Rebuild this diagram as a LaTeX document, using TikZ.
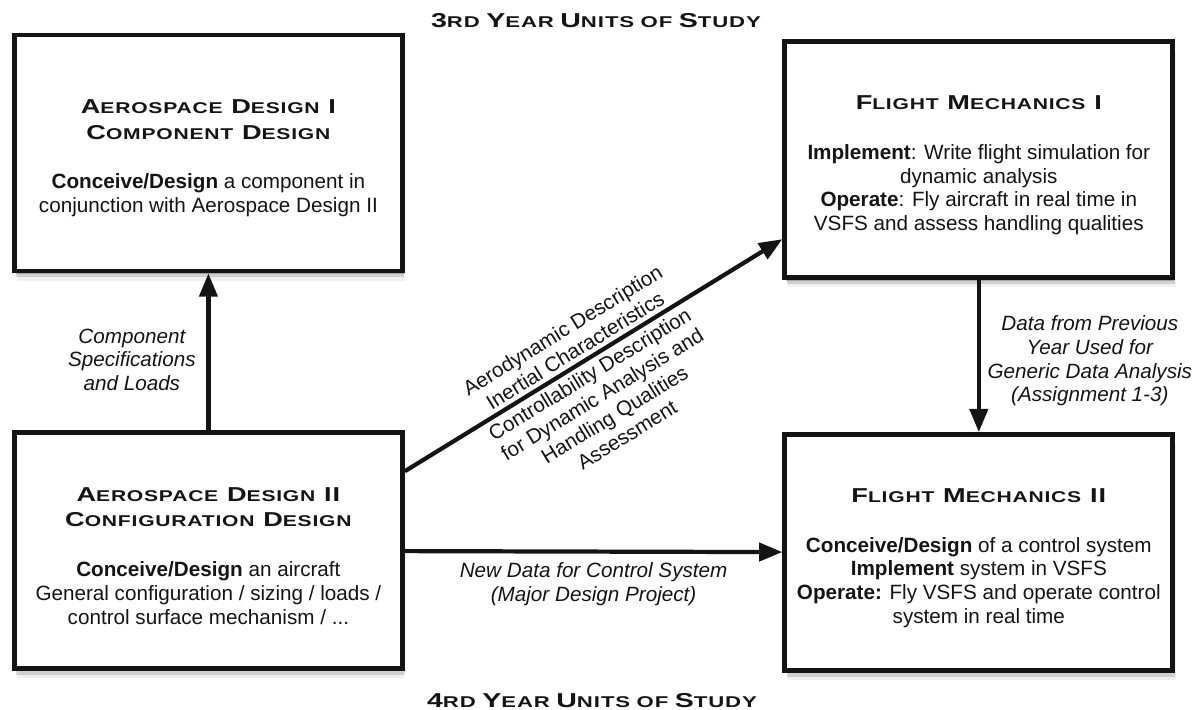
\documentclass[tikz,border=0pt]{standalone}
\usepackage{fontspec}
\setmainfont{Liberation Sans}
\newfontfamily\capsfont[FakeStretch=1.35,LetterSpace=5]{Liberation Sans Bold}
\newfontfamily\headfont[FakeStretch=1.42,LetterSpace=6]{Liberation Sans Bold}
\usepackage{tikz}
\usetikzlibrary{arrows.meta, positioning, shadows}
\definecolor{mydark}{RGB}{20,20,20}
\definecolor{myshadow}{RGB}{60,60,60}
\newcommand{\capword}[2]{{\fontsize{14.3}{18}\selectfont #1}{\fontsize{11.1}{18}\selectfont #2}}
\newcommand{\bodysize}{\fontsize{14.7}{16.9}\selectfont}
\newcommand{\topstrut}{\rule{0pt}{0.62cm}}
\tikzset{
  softshadow/.style={
    drop shadow={shadow xshift=0.03cm, shadow yshift=-0.07cm, fill=myshadow, opacity=0.3},
    drop shadow={shadow xshift=0.05cm, shadow yshift=-0.15cm, fill=myshadow, opacity=0.18},
    drop shadow={shadow xshift=0.07cm, shadow yshift=-0.24cm, fill=myshadow, opacity=0.08}},
  unitbox/.style={rectangle, draw=mydark, fill=white, line width=3.5pt,
    minimum width=9.7cm, minimum height=5.9cm, align=center, text=mydark,
    font=\bodysize, softshadow},
  arrow/.style={-{Triangle[length=0.58cm, width=0.45cm]}, line width=3pt, color=mydark},
  flowlabel/.style={font=\bodysize\itshape, align=center, text=mydark},
  slopelabel/.style={font=\bodysize, align=center, text=mydark, sloped, inner sep=3pt},
  headlabel/.style={font=\headfont, text=mydark}
}

\begin{document}
\begin{tikzpicture}
  \useasboundingbox (0,0) rectangle (30.025,17.725);

  % Year headings
  \node[headlabel] (yr3) at (14.9, 17.22) {\capword{3}{RD} \capword{Y}{EAR} \capword{U}{NITS} \capword{}{OF} \capword{S}{TUDY}};
  \node[headlabel] (yr4) at (14.8, 0.22) {\capword{4}{RD} \capword{Y}{EAR} \capword{U}{NITS} \capword{}{OF} \capword{S}{TUDY}};

  % Units of study
  \node[unitbox] (ad1) at (5.21, 13.9) {%
    \topstrut{\capsfont\capword{A}{EROSPACE} \capword{D}{ESIGN} \capword{I}{}}\\[1.2pt]
    {\capsfont\capword{C}{OMPONENT} \capword{D}{ESIGN}}\\[0.65cm]
    \textbf{Conceive/Design} a component in\\
    conjunction with Aerospace Design II};
  \node[unitbox] (fm1) at (24.47, 13.73) {%
    \topstrut{\capsfont\capword{F}{LIGHT} \capword{M}{ECHANICS} \capword{I}{}}\\[0.65cm]
    \textbf{Implement}: Write flight simulation for\\
    dynamic analysis\\
    \textbf{Operate}: Fly aircraft in real time in\\
    VSFS and assess handling qualities};
  \node[unitbox] (ad2) at (5.21, 3.96) {%
    \topstrut{\capsfont\capword{A}{EROSPACE} \capword{D}{ESIGN} \capword{II}{}}\\[1.2pt]
    {\capsfont\capword{C}{ONFIGURATION} \capword{D}{ESIGN}}\\[0.65cm]
    \textbf{Conceive/Design} an aircraft\\
    General configuration / sizing / loads /\\
    control surface mechanism / ...};
  \node[unitbox] (fm2) at (24.47, 3.91) {%
    \topstrut{\capsfont\capword{F}{LIGHT} \capword{M}{ECHANICS} \capword{II}{}}\\[0.65cm]
    \textbf{Conceive/Design} of a control system\\
    \textbf{Implement} system in VSFS\\
    \textbf{Operate:} Fly VSFS and operate control\\
    system in real time};

  % Connections
  \draw[arrow] (ad2) -- node[flowlabel, left=0.15cm, yshift=-0.2cm] {Component\\Specifications\\and Loads} (ad1);
  \draw[arrow] (fm1) -- node[flowlabel, right=0.05cm, yshift=-0.12cm] {Data from Previous\\Year Used for\\Generic Data Analysis\\(Assignment 1-3)} (fm2);
  \draw[arrow] (ad2) -- node[flowlabel, below=0.1cm] {New Data for Control System\\(Major Design Project)} (fm2);
  \draw[arrow] (ad2.22.8) --
    node[slopelabel, pos=0.47, above] {Aerodynamic Description\\Inertial Characteristics}
    node[slopelabel, pos=0.47, below] {Controllability Description\\for Dynamic Analysis and\\Handling Qualities\\Assessment}
    (fm1.202.7);
\end{tikzpicture}
\end{document}
